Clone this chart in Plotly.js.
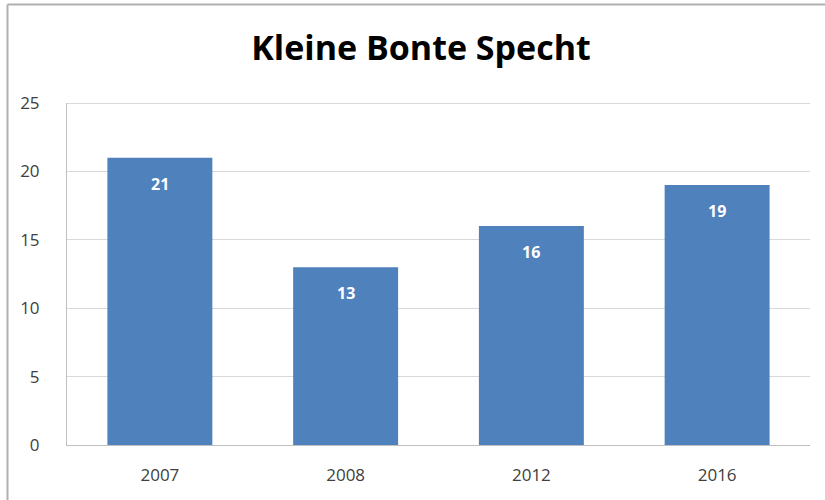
<!DOCTYPE html>
<html><head><meta charset="utf-8">
<script src="https://cdn.plot.ly/plotly-3.0.1.min.js"></script>
<style>html,body{margin:0;padding:0;background:#fff}#c{width:825px;height:500px}</style>
</head><body><div id="c"></div>
<script>
const years = ['2007', '2008', '2012', '2016'];
const counts = [21, 13, 16, 19];
const yTicks = [0, 5, 10, 15, 20, 25];

const trace = {
  type: 'bar', x: years, y: counts,
  marker: {color: '#4f81bd'},
  width: 0.565, hoverinfo: 'x+y'
};
const annotations = years.map((yr, i) => ({
  x: i, y: counts[i], xref: 'x', yref: 'y', text: '<b>' + counts[i] + '</b>',
  showarrow: false, yanchor: 'top', yshift: -13,
  font: {family: 'Open Sans, sans-serif', size: 16, color: '#ffffff'}
}));
const L = 67, R = 810, T = 103, B = 445;
const px = v => (v - L) / (R - L);
const py = v => (B - v) / (B - T);
const layout = {
  width: 825, height: 500,
  margin: {l: L, r: 825 - R, t: T, b: 500 - B, pad: 0},
  paper_bgcolor: '#ffffff', plot_bgcolor: '#ffffff',
  showlegend: false,
  title: {text: '<b>Kleine Bonte Specht</b>', x: 421/825, xref: 'container', xanchor: 'center',
          y: 1 - 48/500, yref: 'container', yanchor: 'middle',
          font: {family: 'Open Sans, sans-serif', size: 34, color: '#000000'}},
  xaxis: {type: 'category', categoryorder: 'array', categoryarray: years,
          range: [-0.5, years.length - 0.5], autorange: false,
          showgrid: false, showline: true, linecolor: '#bfbfbf', linewidth: 1,
          ticks: '', ticklabelstandoff: 15,
          tickfont: {family: 'Open Sans, sans-serif', size: 17, color: '#404040'}},
  yaxis: {range: [0, 25], autorange: false, tickvals: yTicks, ticktext: yTicks.map(String),
          showgrid: true, gridcolor: '#d9d9d9', gridwidth: 1,
          showline: true, linecolor: '#bfbfbf', linewidth: 1, zeroline: false,
          ticks: '', ticklabelstandoff: 23,
          tickfont: {family: 'Open Sans, sans-serif', size: 17, color: '#404040'}},
  annotations: annotations,
  shapes: [
    {type: 'line', xref: 'paper', yref: 'y', x0: 0, x1: 1, y0: yTicks[yTicks.length - 1], y1: yTicks[yTicks.length - 1],
     line: {color: '#cccccc', width: 1.5}},
    {type: 'line', xref: 'paper', yref: 'paper', x0: px(7.5), x1: px(7.5), y0: py(4.5), y1: py(510),
     line: {color: '#b0b0b0', width: 2}},
    {type: 'line', xref: 'paper', yref: 'paper', x0: px(7.5), x1: px(835), y0: py(4.5), y1: py(4.5),
     line: {color: '#b0b0b0', width: 2}}
  ]
};
Plotly.newPlot('c', [trace], layout, {displayModeBar: false, staticPlot: true});
</script></body></html>
